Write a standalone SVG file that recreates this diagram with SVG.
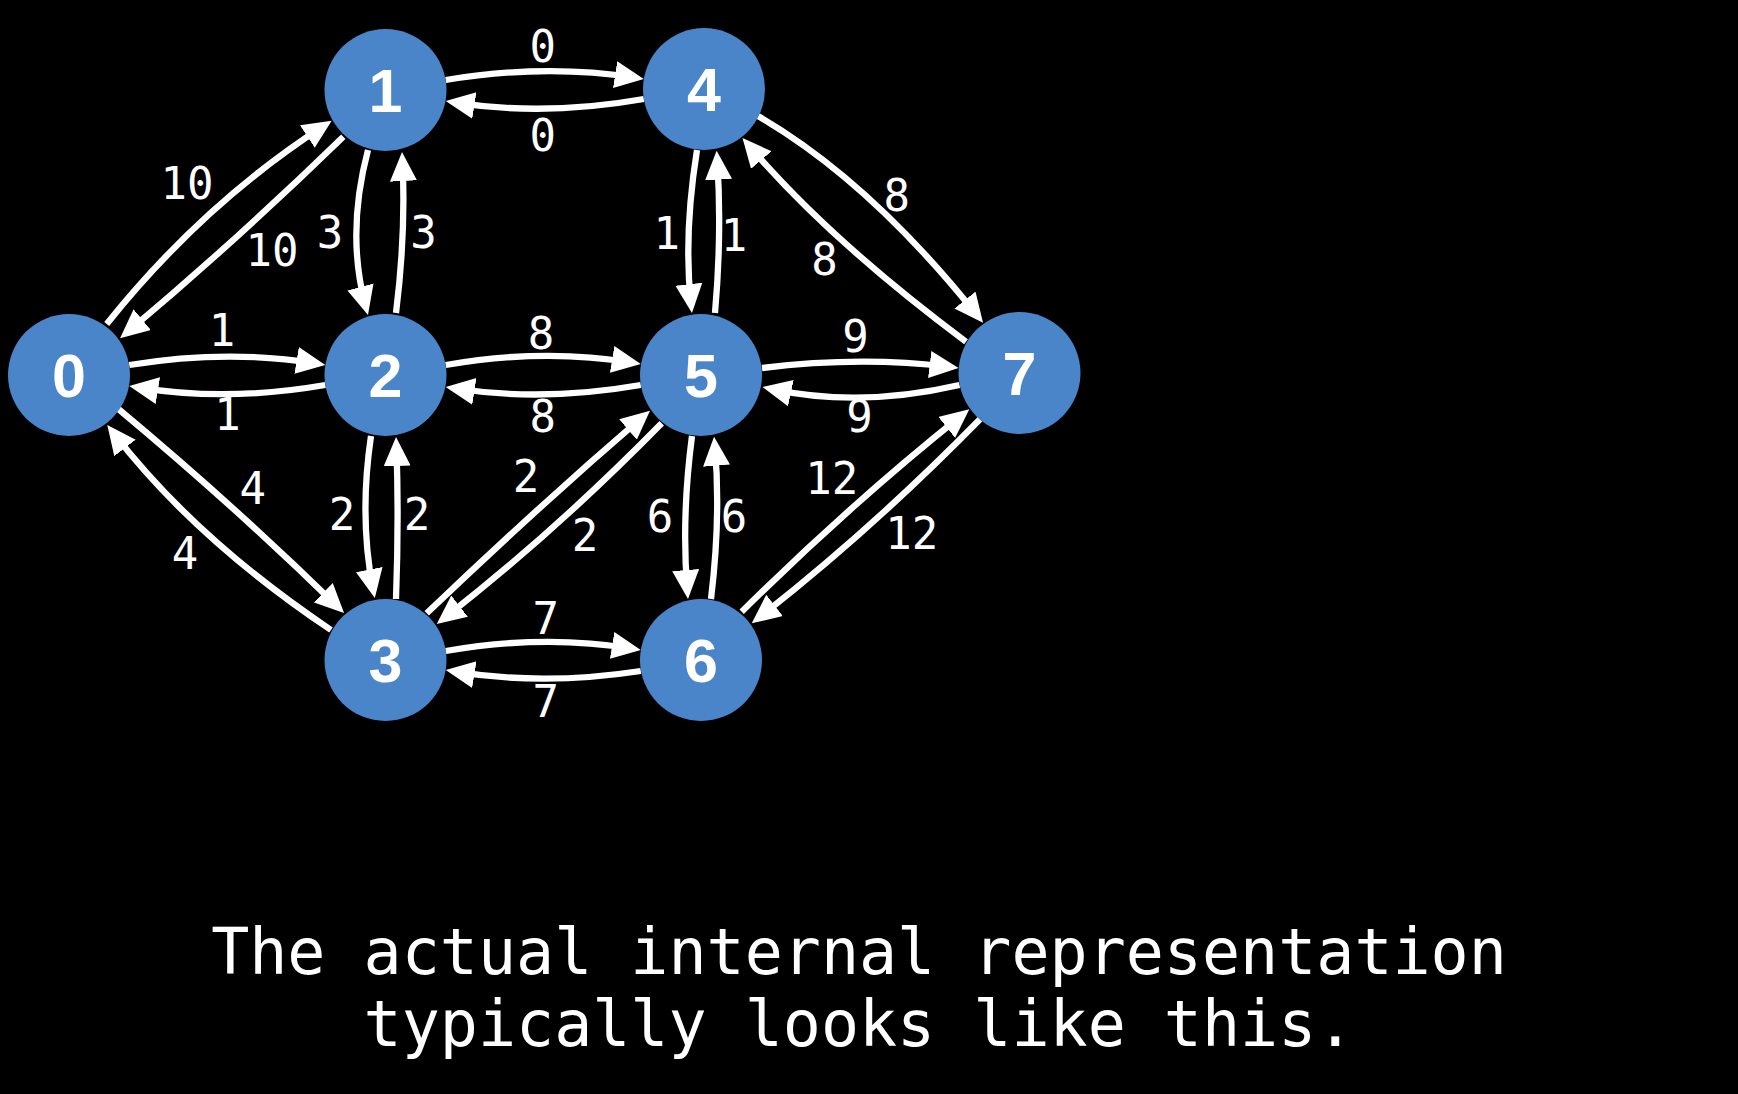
<svg xmlns="http://www.w3.org/2000/svg" width="1738" height="1094" viewBox="0 0 1738 1094">
<defs>
<marker id="arr" markerUnits="userSpaceOnUse" markerWidth="30" markerHeight="28" refX="19" refY="13.5" orient="auto">
<path d="M0,0 L29,13.5 L0,27 z" fill="#ffffff"/>
</marker>
<style>
.e{fill:none;stroke:#ffffff;stroke-width:6.3;marker-end:url(#arr)}
.n{fill:#4a85c9}
.nl{font-family:"Liberation Sans",Arial,sans-serif;font-weight:bold;font-size:61px;fill:#ffffff;text-anchor:middle}
.el{font-family:"DejaVu Sans Mono","Liberation Mono",monospace;font-size:44px;fill:#ffffff;text-anchor:middle}
.cap{font-family:"DejaVu Sans Mono","Liberation Mono",monospace;font-size:63.3px;fill:#ffffff;text-anchor:middle}
</style>
</defs>
<rect x="0" y="0" width="1738" height="1094" fill="#000000"/>
<g id="connectors">
<path class="e" d="M129.2,365 Q227.3,349 315.4,363.4"/>
<path class="e" d="M325.3,385 Q227.3,402 139.1,387.6"/>
<path class="e" d="M445.7,80 Q544.8,63.5 633.9,77.5"/>
<path class="e" d="M643.8,99 Q544.8,116.5 455.6,102.6"/>
<path class="e" d="M445.7,365 Q543.3,348 630.9,362.4"/>
<path class="e" d="M640.8,385 Q543.3,402 455.6,388.5"/>
<path class="e" d="M762,368 Q860.3,356 948.6,366.8"/>
<path class="e" d="M959.5,385 Q860.3,408 772.3,389.1"/>
<path class="e" d="M445.7,651 Q543.3,634 630.9,648.4"/>
<path class="e" d="M640.8,671 Q543.3,686 455.6,671.6"/>
<path class="e" d="M368,150 Q346,233 365.4,305.3"/>
<path class="e" d="M396,313 Q406,233 402.5,162"/>
<path class="e" d="M697,150 Q683.5,234 690.9,303.1"/>
<path class="e" d="M715,313 Q722,234 717.3,160.7"/>
<path class="e" d="M371,436 Q359,517 372.9,588.2"/>
<path class="e" d="M396,599 Q399,518 396.4,447"/>
<path class="e" d="M692,436 Q681.4,517 687.2,589"/>
<path class="e" d="M711,599 Q721,517 714.9,446.7"/>
<path class="e" d="M106.7,324 Q201.7,205.1 323.3,126.2"/>
<path class="e" d="M343.3,136.7 Q236,241 127.7,331.9"/>
<path class="e" d="M118.4,409 Q235.2,506.5 336.9,606"/>
<path class="e" d="M331,630 Q194.8,538.5 113.4,432.9"/>
<path class="e" d="M426.7,613.3 Q535.7,509 642.4,417.2"/>
<path class="e" d="M661.7,423.3 Q555.9,531.2 444.6,617.9"/>
<path class="e" d="M741.7,611.7 Q850.2,504.5 961.5,415.5"/>
<path class="e" d="M980,419.3 Q872.6,528.8 759.6,617.1"/>
<path class="e" d="M758,116 Q869.5,180.6 976.8,314.9"/>
<path class="e" d="M966,341.7 Q829.7,240.1 749,145.6"/>
</g>
<g id="edge-labels">
<text class="el" x="222" y="346">1</text>
<text class="el" x="227.5" y="430">1</text>
<text class="el" x="542.7" y="62">0</text>
<text class="el" x="542.7" y="150.5">0</text>
<text class="el" x="541" y="348.5">8</text>
<text class="el" x="542.7" y="432">8</text>
<text class="el" x="855.5" y="352">9</text>
<text class="el" x="859.6" y="432">9</text>
<text class="el" x="545.7" y="633.5">7</text>
<text class="el" x="545.7" y="717">7</text>
<text class="el" x="330" y="247.5">3</text>
<text class="el" x="423.6" y="247.5">3</text>
<text class="el" x="666.7" y="248.5">1</text>
<text class="el" x="734" y="250.5">1</text>
<text class="el" x="342" y="529.5">2</text>
<text class="el" x="417" y="529.5">2</text>
<text class="el" x="660" y="532">6</text>
<text class="el" x="734" y="532">6</text>
<text class="el" x="187" y="198.5">10</text>
<text class="el" x="272" y="265.5">10</text>
<text class="el" x="252.7" y="503.5">4</text>
<text class="el" x="185" y="568.5">4</text>
<text class="el" x="526" y="492">2</text>
<text class="el" x="585" y="551">2</text>
<text class="el" x="831.7" y="494">12</text>
<text class="el" x="911.7" y="549">12</text>
<text class="el" x="896.8" y="210.5">8</text>
<text class="el" x="824.5" y="274.5">8</text>
</g>
<g id="node-0"><circle class="n" cx="69" cy="375" r="61"/><text class="nl" x="69" y="397">0</text></g>
<g id="node-1"><circle class="n" cx="385.5" cy="90" r="61"/><text class="nl" x="385.5" y="112">1</text></g>
<g id="node-2"><circle class="n" cx="385.5" cy="375" r="61"/><text class="nl" x="385.5" y="397">2</text></g>
<g id="node-3"><circle class="n" cx="385.5" cy="660" r="61"/><text class="nl" x="385.5" y="682">3</text></g>
<g id="node-4"><circle class="n" cx="704" cy="89" r="61"/><text class="nl" x="704" y="111">4</text></g>
<g id="node-5"><circle class="n" cx="701" cy="375" r="61"/><text class="nl" x="701" y="397">5</text></g>
<g id="node-6"><circle class="n" cx="701" cy="660" r="61"/><text class="nl" x="701" y="682">6</text></g>
<g id="node-7"><circle class="n" cx="1019.5" cy="373" r="61"/><text class="nl" x="1019.5" y="395">7</text></g>
<g id="caption">
<text class="cap" x="859" y="974">The actual internal representation</text>
<text class="cap" x="859" y="1046">typically looks like this.</text>
</g>
</svg>
